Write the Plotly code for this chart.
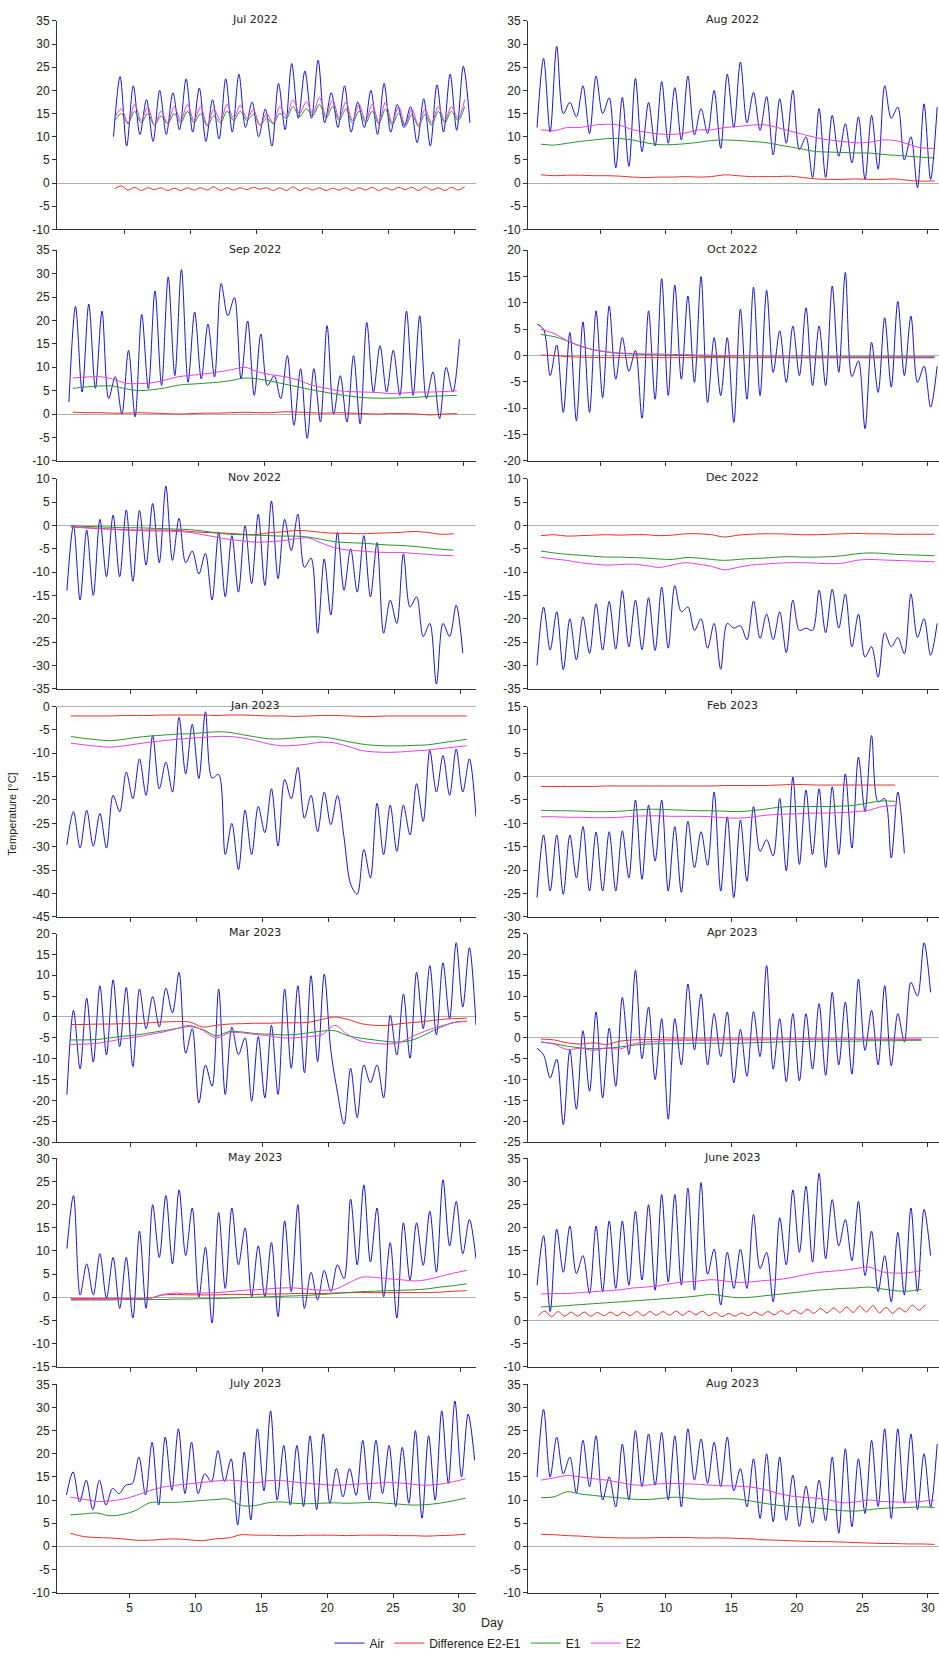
import numpy as np
import plotly.graph_objects as go

W, H = 939, 1658

C_AIR = "#1717c9"
C_DIFF = "#e3312c"
C_E1 = "#2f8f2f"
C_E2 = "#e040e0"

# Air temperature: alternating daily low / daily high, one pair per day,
# an optional trailing value closes the month.
# E-series: one value per day, or (low, high) pairs where the daily cycle shows.

# ---------------- Jul 2022 (logging starts on day 4) ----------------
JUL22_AIR = [10, 23, 8, 21, 10.5, 18, 9, 20, 10.5, 19.5, 11.5, 22.5, 11, 20.5, 9, 18,
             9.5, 22.5, 11, 23.5, 12, 17.5, 10, 16, 8, 21.5, 11.5, 25.8, 14, 24.2, 14, 26.5,
             13, 19.5, 12, 21, 11, 17.5, 12, 20, 10.5, 21.5, 11, 17, 12, 16.5, 8.7, 18.2,
             8, 21.2, 11, 23.5, 11.4, 25.2, 13]
JUL22_E2 = [14.2, 16, 13, 17, 13.5, 16.5, 12.5, 15.5, 13, 16.5, 13.5, 17, 13.5, 16.5, 12.5, 16,
            13.5, 17, 14, 16.8, 14, 15.8, 12.5, 15, 13, 16.5, 14.5, 18, 15, 17.5, 15, 18.5,
            14.5, 18, 14, 17.5, 13.5, 17, 13.5, 17, 13, 17.5, 13, 16.5, 12.5, 16, 12.5, 16,
            13, 16.5, 13.5, 16.5, 14, 18]
JUL22_E1 = [13.5, 15, 12.8, 15.5, 13, 15, 12.5, 14.5, 12.8, 15, 13, 15.5, 13, 15, 12.3, 14.5,
            13, 15.5, 13.5, 15.5, 13.5, 14.8, 12.5, 14, 12.8, 15, 14, 16.5, 14.3, 16, 14.5, 17,
            14, 16.5, 13.5, 16, 13, 15.5, 13, 15.5, 12.8, 16, 12.5, 15, 12.3, 14.8, 12.3, 14.8,
            12.5, 15.5, 13, 15.5, 13.5, 16.5]
JUL22_DIFF = [-1.2, -0.6, -1.5, -0.9, -1.6, -1.0, -1.4, -1.0, -1.6, -1.1, -1.6, -1.0, -1.5, -1.0,
              -1.5, -0.8, -1.6, -1.0, -1.5, -1.0, -1.4, -0.9, -1.3, -1.0, -1.6, -1.0, -1.6, -0.8,
              -1.6, -1.0, -1.5, -1.0, -1.6, -1.1, -1.5, -1.0, -1.6, -1.0, -1.5, -0.9, -1.6, -1.0,
              -1.5, -0.9, -1.4, -0.9, -1.6, -0.8, -1.5, -1.0, -1.6, -0.9, -1.5, -0.8]

# ---------------- Aug 2022 ----------------
AUG22_AIR = [12, 26.9, 11, 29.5, 15, 17.4, 14.3, 21, 10.7, 23.1, 15, 18.4, 3.3, 18.5, 3.6, 22.6,
             6.8, 17.4, 8, 21.9, 8.6, 20.6, 9.3, 23.1, 10.4, 16.1, 10.7, 20, 7.5, 23.5, 12, 26.1,
             13, 19.6, 11.4, 18.7, 6.1, 18.2, 8.6, 20, 7.2, 10, 1.2, 16.1, 1.2, 14.6, 5.8, 12.8,
             4.4, 14.3, 0.8, 14.6, 3, 21, 14, 16.4, 5, 10, -1, 17.1, 0.8, 16.4]
AUG22_E2 = [11.5, 11.3, 12, 12, 12.5, 12.7, 12.5, 11.5, 11, 10.6, 10.5, 10.8, 11.5, 11.5, 12, 12.2,
            12.5, 12.6, 12, 11.2, 10.5, 9.8, 9.3, 9, 8.7, 8.8, 9.3, 9.2, 8.4, 7.6, 7.5]
AUG22_E1 = [8.4, 8.2, 8.6, 9, 9.3, 9.6, 9.6, 9.3, 8.7, 8.3, 8.3, 8.5, 8.8, 9.2, 9.3, 9.2,
            9, 8.8, 8.3, 7.8, 7.3, 6.8, 6.7, 6.6, 6.5, 6.5, 6.2, 6, 5.8, 5.6, 5.4]
AUG22_DIFF = [1.8, 1.6, 1.7, 1.7, 1.6, 1.6, 1.5, 1.3, 1.2, 1.3, 1.3, 1.4, 1.3, 1.4, 1.8, 1.6,
              1.4, 1.4, 1.4, 1.5, 1.2, 0.9, 0.8, 0.8, 0.9, 0.8, 0.8, 0.9, 0.6, 0.4, 0.5]

# ---------------- Sep 2022 ----------------
SEP22_AIR = [2.6, 23, 4.7, 23.5, 5.5, 22, 3.3, 8, 0, 13.6, -0.6, 21.3, 5.4, 26.3, 6.1, 29.3,
             8.2, 30.9, 6.8, 21.8, 7.5, 19.2, 7.9, 27.9, 21, 24.9, 7.5, 19.9, 4, 17.1, 6.1, 8.2,
             3.3, 12.5, -2.4, 9.7, -5.2, 9.7, -1.7, 18.9, 0, 8.2, -1.7, 12.5, -2.1, 19.6, 4.7, 14.6,
             4.7, 13.6, 4, 22, 4, 21, 3.3, 9, -1, 10, 4.7, 16]
SEP22_E2 = [7.7, 7.9, 8, 7.5, 6.6, 6.5, 6.7, 7.3, 8, 8.3, 8.6, 9, 9.5, 10, 9, 8.4,
            8, 7.3, 6.2, 5.6, 5, 4.8, 4.7, 4.6, 4.4, 4.5, 4.7, 4.7, 4.8, 5]
SEP22_E1 = [5.5, 5.8, 6, 6, 5.4, 5, 5.2, 5.6, 6.2, 6.4, 6.6, 6.8, 7.2, 7.7, 7.5, 7,
            6.4, 5.8, 5.2, 4.7, 4.2, 3.8, 3.5, 3.4, 3.4, 3.5, 3.6, 3.8, 3.9, 4]
SEP22_DIFF = [0.4, 0.3, 0.3, 0.2, 0.2, 0.3, 0.2, 0.1, 0, 0.1, 0.2, 0.2, 0.3, 0.4, 0.3, 0.3,
              0.5, 0.4, 0.3, 0.2, 0.3, 0.2, 0.1, 0, 0.1, 0.1, 0, -0.2, 0, 0.1]

# ---------------- Oct 2022 ----------------
OCT22_AIR = [6, 5, -3.8, 2, -10.8, 4.4, -12.4, 6.4, -10.8, 8.5, -8, 9.4, -4.5, 3.4, -3, 1,
             -11.9, 8.5, -8.3, 14.6, -7.6, 13.4, -4.5, 11.3, -5.1, 15, -8.9, 3.4, -7.6, 3.4, -12.7, 8.8,
             -8.3, 13, -7.6, 12.4, -3.2, 4.7, -5.1, 5.6, -3.8, 9.1, -5.7, 5.6, -5.7, 13.2, -3.2, 15.8,
             -4, -1, -13.9, 2.5, -7, 7.2, -6, 10.3, -3.8, 7.5, -5.1, -2, -9.8, -2]
OCT22_E2 = [5, 4.2, 2.8, 1.8, 1.1, 0.7, 0.5, 0.4, 0.3, 0.3, 0.2, 0.2, 0.1, 0.1, 0, 0,
            0, -0.1, -0.1, -0.1, -0.1, -0.2, -0.2, -0.2, -0.2, -0.2, -0.2, -0.2, -0.2, -0.2, -0.2]
OCT22_E1 = [4, 3.6, 2.8, 1.8, 1.1, 0.7, 0.4, 0.3, 0.2, 0.1, 0, 0, -0.1, -0.2, -0.2, -0.3,
            -0.3, -0.3, -0.3, -0.4, -0.4, -0.4, -0.4, -0.4, -0.4, -0.4, -0.4, -0.4, -0.4, -0.4, -0.4]
OCT22_DIFF = [0.1, 0, -0.2, -0.3, -0.35, -0.4, -0.4, -0.4, -0.4, -0.4, -0.4, -0.4, -0.4, -0.4, -0.4, -0.4,
              -0.4, -0.4, -0.4, -0.4, -0.4, -0.4, -0.4, -0.4, -0.4, -0.4, -0.4, -0.4, -0.4, -0.4, -0.4]

# ---------------- Nov 2022 ----------------
NOV22_AIR = [-14, 0, -16, -1, -15, 1.3, -11, 2.2, -11, 3.3, -12, 3.2, -8.5, 4.7, -8, 8.4,
             -7.5, 1.5, -8, -5.5, -10.4, -6, -16, -1.5, -15.3, -2.2, -14.3, -0.1, -12.5, 2.4, -12.9, 5.2,
             -11.4, 1.3, -5.4, 2.4, -9, -7, -23.1, -7.2, -19.2, -1.5, -13.9, -5, -14.3, -2.2, -15.3, -3.7,
             -23.1, -16, -21, -6.1, -17.5, -15.3, -23.8, -21, -34, -21, -23.8, -17.1, -27.4]
NOV22_E2 = [-0.3, -0.5, -0.7, -0.8, -1, -1.1, -1.2, -1.2, -1.3, -1.5, -2, -2.5, -3, -3.3, -3.6, -3.5,
            -3.3, -2.9, -2.7, -3.8, -4.8, -5.3, -5.5, -5.7, -5.8, -5.8, -6, -6.2, -6.4, -6.5]
NOV22_E1 = [-0.1, -0.2, -0.3, -0.4, -0.5, -0.5, -0.6, -0.7, -0.8, -0.9, -1.2, -1.6, -1.9, -2, -2.1, -2.2,
            -2.3, -2.3, -2.5, -3, -3.5, -3.7, -3.8, -4, -4.2, -4.3, -4.5, -4.8, -5.1, -5.3]
NOV22_DIFF = [-0.3, -0.5, -0.6, -0.8, -0.9, -1, -1, -1, -1.1, -1.3, -1.5, -1.6, -1.7, -1.9, -2, -1.6,
              -1.4, -1.1, -1.2, -1.5, -1.7, -1.7, -1.8, -1.7, -1.6, -1.5, -1.3, -1.5, -1.9, -1.8]

# ---------------- Dec 2022 ----------------
DEC22_AIR = [-30, -17.5, -26.7, -18.5, -30.9, -20, -28.8, -19.6, -27.4, -16.8, -26.7, -16.3, -26.5, -14, -26, -16,
             -26.6, -15.5, -26.8, -13.2, -26.3, -12.9, -18.5, -17.5, -22.5, -20, -26.3, -21, -30.8, -21, -22, -21.5,
             -24.5, -16.2, -24.2, -19, -24.5, -18.5, -27.3, -16, -22.5, -22, -22.5, -13.9, -23, -13.7, -22, -14.7,
             -26, -19, -28.2, -26, -32.5, -23, -26, -24, -27.5, -14.7, -24, -20, -27.8, -21]
DEC22_E2 = [-6.8, -7.2, -7.5, -8, -8.3, -8.5, -8.4, -8.3, -8.6, -9, -8.5, -8, -8.3, -8.8, -9.5, -9,
            -8.5, -8.3, -8.1, -8, -8, -8.1, -8.2, -8.1, -7.5, -7.3, -7.4, -7.5, -7.6, -7.7, -7.8]
DEC22_E1 = [-5.5, -5.9, -6.2, -6.4, -6.6, -6.8, -6.8, -6.9, -7, -7.2, -7.3, -6.9, -7, -7.3, -7.5, -7.3,
            -7.1, -7, -6.8, -6.7, -6.8, -6.8, -6.7, -6.5, -6.1, -5.9, -6, -6.2, -6.3, -6.4, -6.5]
DEC22_DIFF = [-2.2, -2, -2.3, -2.2, -2.1, -2, -2.1, -2, -2, -2.2, -2.1, -1.8, -1.8, -2, -2.5, -2.1,
              -1.9, -1.8, -1.8, -1.9, -2, -2, -1.9, -1.8, -1.7, -1.8, -1.8, -1.9, -1.9, -1.9, -1.9]

# ---------------- Jan 2023 ----------------
JAN23_AIR = [-29.6, -22.5, -30.3, -22.2, -29.9, -22.9, -30.3, -19, -22.5, -14, -19.7, -11.2, -19, -6.2, -17.6, -11.9,
             -18.3, -2.3, -14.4, -3.8, -15.4, -1.1, -15.3, -14.5, -31.7, -25, -34.9, -22.2, -31.7, -21.4, -27, -17.6,
             -29.9, -15.6, -19.7, -13, -23.9, -19, -26.8, -18.3, -25.3, -19, -28, -38, -40.2, -30.6, -36.7, -20.7,
             -31.7, -21.1, -31, -21.1, -27.5, -16.5, -24.6, -9.4, -18.3, -10.5, -19, -9.1, -18.3, -11.2, -23.6]
JAN23_E2 = [-7.8, -8.2, -8.5, -8.7, -8.4, -8, -7.6, -7.3, -7, -6.8, -6.6, -6.4, -6.4, -6.7, -7.3, -8,
            -8.4, -8.3, -8, -7.6, -7.8, -8.5, -9.4, -9.7, -9.8, -9.7, -9.5, -9.3, -9, -8.7, -8.4]
JAN23_E1 = [-6.4, -6.8, -7.1, -7.3, -7, -6.6, -6.3, -6.1, -5.9, -5.8, -5.6, -5.4, -5.5, -6, -6.5, -6.9,
            -6.9, -6.7, -6.5, -6.5, -6.9, -7.5, -8, -8.3, -8.4, -8.4, -8.3, -8.2, -7.8, -7.4, -7]
JAN23_DIFF = [-2, -2, -2, -2, -1.9, -1.9, -1.9, -1.8, -1.8, -1.8, -1.8, -1.9, -1.8, -1.8, -1.9, -2,
              -2, -2.1, -2, -1.9, -1.9, -2, -2.1, -2.1, -2, -2, -2, -2, -2, -2, -2]

# ---------------- Feb 2023 ----------------
FEB23_AIR = [-25.9, -12.5, -24.5, -12.5, -25.2, -12.5, -21.7, -10.7, -24.5, -11.9, -24.5, -11.8, -24.5, -11.6, -21.7, -5,
             -22, -6.1, -18.1, -5, -24.5, -10.7, -24.8, -9.6, -19.5, -11.8, -19, -3.3, -24.5, -8.6, -25.9, -9.3,
             -22.4, -6.4, -16, -13.5, -17, -4.7, -20.2, -0.1, -18.8, -2.9, -16.7, -2.6, -19.5, -2.2, -16.7, 0.6,
             -15.3, 4.2, -7.5, 8.8, -5.4, -4.7, -17.4, -3.3, -16.4]
FEB23_E2 = [-8.6, -8.6, -8.7, -8.7, -8.8, -8.8, -8.7, -8.5, -8.4, -8.4, -8.5, -8.5, -8.5, -8.6, -8.8, -8.9,
            -8.7, -8.3, -8.1, -8, -7.9, -7.8, -7.8, -7.7, -7.5, -7.2, -6.4, -6.2]
FEB23_E1 = [-7.2, -7.3, -7.3, -7.4, -7.5, -7.5, -7.4, -7.2, -7, -7, -7.1, -7.2, -7.3, -7.3, -7.4, -7.5,
            -7.3, -7, -6.6, -6.4, -6.4, -6.4, -6.4, -6.3, -6.1, -5.6, -5.2, -5.3]
FEB23_DIFF = [-2.1, -2.1, -2.1, -2.1, -2.1, -2, -2, -2, -2, -2, -2, -2, -2, -2, -1.9, -1.9,
              -1.9, -1.9, -1.8, -1.7, -1.7, -1.8, -1.8, -1.8, -1.8, -1.8, -1.8, -1.8]

# ---------------- Mar 2023 ----------------
MAR23_AIR = [-18.6, 1.6, -12.4, 4.5, -10.8, 7.5, -9.1, 8.9, -7.1, 7.1, -11.9, 6.7, -2.8, 4.9, -2.4, 6.9,
             1, 10.7, -8.7, -2.8, -20.6, -11.5, -16.6, 6.7, -18.6, -2.4, -9, -5, -20.2, -4.7, -19.4, -2,
             -18.6, 6.7, -12.3, 7.5, -13.4, 9.9, -10.7, 10.3, -8, -18, -25.7, -12.3, -24.1, -11.5, -15.8, -11.5,
             -19.4, 0.4, -9.1, 5.5, -9.9, 10.7, -2.8, 12.3, -4.3, 13, -0.4, 17.8, 2.4, 16.6, -2]
MAR23_E2 = [-6.6, -6.5, -6.3, -5.8, -5.2, -4.8, -4.2, -3.6, -2.8, -2, -3.2, -5, -3.8, -3.8, -4.2, -4.5,
            -5, -5, -4.7, -4.3, -2, -4.3, -5.8, -6.3, -6.5, -6, -4.5, -3.2, -2.2, -1.4, -1]
MAR23_E1 = [-5.5, -5.5, -5.4, -5, -4.6, -4.3, -3.8, -3.3, -2.8, -2.3, -3, -4.5, -3.5, -3.6, -4, -4.1,
            -4.3, -4.2, -3.8, -3.4, -3.3, -4.5, -5.1, -5.5, -5.9, -6, -5.4, -4, -2.5, -1.3, -1]
MAR23_DIFF = [-1.8, -1.8, -1.7, -1.7, -1.6, -1.6, -1.4, -1.2, -1.1, -1.2, -2.4, -2, -1.7, -1.6, -1.5, -1.5,
              -1.4, -1.4, -1.3, -0.6, 0, -0.6, -1.6, -2, -2, -1.6, -1.3, -1, -0.6, -0.4, -0.3]

# ---------------- Apr 2023 ----------------
APR23_AIR = [-2.5, -4.1, -9.6, -5.1, -20.8, -2.9, -17.1, 1.7, -12.8, 6.2, -14.4, 2.3, -11.6, 9.7, -4, 16.2,
             -5, 7.4, -10, 4.6, -19.5, 4.6, -6.5, 12.9, -2.9, 10.5, -6.5, 5.8, -4.5, 6.2, -10.8, 2,
             -9.2, 6.3, -4.5, 17.3, -7.5, 4.6, -10.5, 5.8, -10.3, 5.8, -7.5, 8.2, -9, 10.9, -6.5, 8.6,
             -8.7, 14.1, -3, 6.6, -6.5, 12.5, -6.7, 5.8, -1, 13.3, 10, 22.8, 10.9]
APR23_E2 = [-1, -1.5, -2.8, -2.5, -3, -2.4, -2.7, -1.5, -1, -0.8, -0.7, -0.6, -0.6, -0.6, -0.5, -0.5,
            -0.5, -0.5, -0.4, -0.4, -0.4, -0.4, -0.4, -0.4, -0.4, -0.4, -0.4, -0.4, -0.4, -0.4]
APR23_E1 = [-1, -1.4, -2, -2.4, -2.6, -2.5, -2.2, -1.8, -1.5, -1.4, -1.4, -1.4, -1.3, -1.3, -1.3, -1.3,
            -1.2, -1.1, -1, -0.9, -0.9, -0.8, -0.8, -0.8, -0.8, -0.7, -0.7, -0.7, -0.6, -0.6]
APR23_DIFF = [-0.3, -0.5, -1.2, -1.5, -1.2, -1.6, -0.8, -0.5, -0.4, -0.4, -0.3, -0.3, -0.3, -0.3, -0.3, -0.3,
              -0.3, -0.3, -0.3, -0.3, -0.3, -0.3, -0.3, -0.3, -0.3, -0.3, -0.3, -0.3, -0.3, -0.3]

# ---------------- May 2023 ----------------
MAY23_AIR = [10.5, 22, 0.5, 7.2, 0.5, 9.4, -0.2, 8.6, -2.4, 8.6, -4.5, 14.3, -2.4, 20, 8.6, 22,
             7.2, 23.2, 9, 19.3, 0, 10.8, -5.6, 18.3, 1.9, 19.3, 7, 15, 0.1, 11.1, 0.1, 11.8,
             -4.2, 16.5, 1.2, 20, -2.4, 5.4, -0.6, 5.8, 1.2, 7, 4, 21.2, 7, 24.3, 7.6, 19.3,
             0.1, 11.8, -4.5, 16.1, 3.7, 16.1, 6.9, 18.6, 5.4, 25.4, 11.1, 20.7, 9.4, 16.8, 8.3]
MAY23_E2 = [-0.5, -0.5, -0.5, -0.4, -0.4, -0.3, -0.2, 0.6, 0.9, 0.8, 0.9, 1, 1.2, 1.5, 1.6, 1.8,
            2, 2, 1.7, 1.5, 1.7, 3, 4.3, 4.3, 4, 3.8, 3.5, 3.8, 4.5, 5.2, 5.8]
MAY23_E1 = [-0.6, -0.6, -0.6, -0.6, -0.5, -0.5, -0.5, -0.5, -0.4, -0.4, -0.3, -0.3, -0.2, -0.1, 0, 0.1,
            0.2, 0.3, 0.4, 0.6, 0.8, 1, 1.2, 1.3, 1.4, 1.5, 1.6, 1.8, 2.2, 2.5, 2.9]
MAY23_DIFF = [-0.3, -0.3, -0.3, -0.3, -0.3, -0.3, -0.2, 0.5, 0.6, 0.5, 0.5, 0.5, 0.6, 0.6, 0.6, 0.7,
              0.7, 0.8, 0.8, 0.8, 0.9, 1, 1, 1, 1, 1, 1, 1, 1.1, 1.3, 1.4]

# ---------------- June 2023 ----------------
JUN23_AIR = [7.6, 18.3, 1.9, 19.7, 10.4, 20.4, 10.1, 14, 5.8, 20.4, 6.2, 21.5, 6.9, 21.5, 7.6, 23.6,
             8.7, 25, 6.5, 27.2, 8.3, 27.2, 7.6, 28.6, 6.5, 29.8, 10, 15.4, 3.3, 14.7, 6.9, 15.4,
             6.9, 22.9, 11.2, 14.7, 4, 22.2, 12, 28.2, 14.7, 29, 12.6, 31.8, 13.3, 26.1, 16.1, 21.8,
             12.9, 25.7, 9.7, 19.3, 6.2, 14, 4, 19, 5.5, 24.3, 6.2, 24, 14]
JUN23_E2 = [5.7, 5.8, 5.8, 6, 6.2, 6.4, 6.6, 7, 7.2, 7.5, 8, 8.3, 8.5, 8.8, 8.5, 8.2,
            8.3, 8.6, 8.8, 9.2, 9.8, 10.3, 10.6, 10.8, 11.2, 11.5, 10.5, 10.2, 10.3, 10.8]
JUN23_E1 = [2.9, 3, 3.2, 3.4, 3.6, 3.8, 4, 4.2, 4.4, 4.6, 4.8, 5, 5.3, 5.6, 5.2, 4.9,
            5, 5.3, 5.6, 5.9, 6.2, 6.5, 6.7, 6.9, 7, 7.2, 6.8, 6.4, 6.3, 6.7]
JUN23_DIFF = [1.0, 2.0, 0.8, 1.9, 0.9, 1.8, 0.9, 1.8, 0.9, 1.7, 1.0, 1.8, 1.0, 1.8, 1.0, 1.9,
              1.0, 1.9, 1.1, 1.9, 1.1, 2.0, 1.1, 2.0, 1.2, 2.0, 1.0, 1.7, 0.8, 1.5, 0.9, 1.6,
              1.0, 1.8, 1.1, 1.9, 1.2, 2.1, 1.3, 2.2, 1.4, 2.4, 1.5, 2.6, 1.6, 2.7, 1.7, 2.9,
              1.7, 3.1, 1.8, 3.2, 1.6, 2.8, 1.5, 2.7, 1.8, 3.3, 2.2, 3.4]

# ---------------- July 2023 ----------------
JUL23_AIR = [11.1, 16.1, 9.6, 14.3, 7.9, 14.3, 8.9, 12.5, 11.4, 13.2, 13.6, 19.3, 11.1, 22.5, 8.9, 23.6,
             12.1, 25.4, 11.4, 22.5, 11.4, 15.7, 14, 20.7, 14, 18.9, 4.6, 20.4, 5.7, 25.4, 12, 29.3,
             10, 21.8, 8.9, 21.8, 8.6, 23.9, 7.9, 24.3, 9.3, 16.8, 10.7, 16.8, 11, 22.9, 10, 22.9,
             11.4, 21.8, 8.6, 21.4, 9.3, 25, 6.1, 23.9, 10, 29.3, 13.6, 31.4, 15, 28.6, 18.6]
JUL23_E2 = [10.6, 10.2, 9.7, 9.8, 10.2, 11, 12, 12.8, 13.2, 13.5, 13.8, 14.1, 14.3, 14.1, 13.7, 14.2,
            14.2, 13.9, 13.6, 13.4, 13.2, 13.3, 13.5, 13.6, 13.8, 13.7, 13.4, 13.2, 13.4, 13.9, 14.6]
JUL23_E1 = [6.8, 7, 7.2, 6.6, 6.9, 7.8, 9.4, 9.5, 9.5, 9.7, 9.9, 10.1, 10.2, 8.8, 8.8, 9.4,
            9.6, 9.3, 9.2, 9.3, 9.4, 9.3, 9.4, 9.5, 9.3, 9.1, 8.9, 9, 9.3, 9.8, 10.4]
JUL23_DIFF = [2.8, 2.1, 1.9, 1.8, 1.6, 1.3, 1.3, 1.5, 1.6, 1.4, 1.2, 1.6, 1.8, 2.5, 2.4, 2.4,
              2.3, 2.3, 2.4, 2.4, 2.4, 2.3, 2.4, 2.4, 2.4, 2.3, 2.3, 2.2, 2.3, 2.4, 2.6]

# ---------------- Aug 2023 ----------------
AUG23_AIR = [15, 29.6, 15, 23.6, 15.7, 19.3, 11.5, 22.9, 12.9, 23.9, 10, 15, 8.5, 22.1, 10, 25,
             12.9, 24.3, 13.2, 24.6, 10, 23.9, 8.5, 25.4, 14.3, 23.2, 13.6, 22.5, 12.9, 23.6, 12, 16.8,
             8.5, 18.9, 6, 20, 5.3, 19.3, 5.6, 15.4, 4.3, 13, 5, 14.3, 5.5, 19.3, 2.8, 21.1,
             4.2, 18.9, 7.1, 22.9, 8.6, 25.4, 6, 25.4, 9.3, 24.3, 7.9, 20, 8.5, 22.1]
AUG23_E2 = [14.3, 14.8, 15.3, 15, 14.6, 14.3, 13.8, 13.3, 13.2, 13.5, 13.6, 13.5, 13.4, 13.2, 13.1, 13,
            12.8, 12.3, 11.5, 10.9, 10.6, 10.4, 10, 9.4, 9.6, 10, 9.7, 9.6, 9.5, 9.7, 10]
AUG23_E1 = [10.5, 10.7, 11.8, 11.3, 11, 10.7, 10.5, 10.2, 10.1, 10.3, 10.6, 10.5, 10.2, 10.2, 10.3, 10.2,
            9.8, 9.3, 8.9, 8.6, 8.5, 8.3, 8, 7.7, 7.6, 7.9, 8.2, 8.3, 8.4, 8.5, 8.4]
AUG23_DIFF = [2.6, 2.5, 2.3, 2.2, 2, 1.9, 1.8, 1.8, 1.8, 1.9, 1.9, 1.9, 1.8, 1.8, 1.8, 1.7,
              1.6, 1.4, 1.3, 1.2, 1.1, 1, 1, 0.9, 0.8, 0.7, 0.6, 0.6, 0.5, 0.5, 0.4]

# Panel table: title, series, first logged day, y range, x range,
# samples per day for (Difference, E1, E2)
LEFT_X = (-0.55, 31.2)
RIGHT_X = (-0.49, 30.84)
PANELS = [
    ("Jul 2022", JUL22_AIR, JUL22_DIFF, JUL22_E1, JUL22_E2, 4, (-10, 35), (-0.08, 31.66), (2, 2, 2)),
    ("Aug 2022", AUG22_AIR, AUG22_DIFF, AUG22_E1, AUG22_E2, 0, (-10, 35), RIGHT_X, (1, 1, 1)),
    ("Sep 2022", SEP22_AIR, SEP22_DIFF, SEP22_E1, SEP22_E2, 0, (-10, 35), (-0.7, 30.95), (1, 1, 1)),
    ("Oct 2022", OCT22_AIR, OCT22_DIFF, OCT22_E1, OCT22_E2, 0, (-20, 20), RIGHT_X, (1, 1, 1)),
    ("Nov 2022", NOV22_AIR, NOV22_DIFF, NOV22_E1, NOV22_E2, 0, (-35, 10), LEFT_X, (1, 1, 1)),
    ("Dec 2022", DEC22_AIR, DEC22_DIFF, DEC22_E1, DEC22_E2, 0, (-35, 10), RIGHT_X, (1, 1, 1)),
    ("Jan 2023", JAN23_AIR, JAN23_DIFF, JAN23_E1, JAN23_E2, 0, (-45, 0), LEFT_X, (1, 1, 1)),
    ("Feb 2023", FEB23_AIR, FEB23_DIFF, FEB23_E1, FEB23_E2, 0, (-30, 15), RIGHT_X, (1, 1, 1)),
    ("Mar 2023", MAR23_AIR, MAR23_DIFF, MAR23_E1, MAR23_E2, 0, (-30, 20), LEFT_X, (1, 1, 1)),
    ("Apr 2023", APR23_AIR, APR23_DIFF, APR23_E1, APR23_E2, 0, (-25, 25), RIGHT_X, (1, 1, 1)),
    ("May 2023", MAY23_AIR, MAY23_DIFF, MAY23_E1, MAY23_E2, 0, (-15, 30), LEFT_X, (1, 1, 1)),
    ("June 2023", JUN23_AIR, JUN23_DIFF, JUN23_E1, JUN23_E2, 0, (-10, 35), RIGHT_X, (2, 1, 1)),
    ("July 2023", JUL23_AIR, JUL23_DIFF, JUL23_E1, JUL23_E2, 0, (-10, 35), (-0.52, 31.3), (1, 1, 1)),
    ("Aug 2023", AUG23_AIR, AUG23_DIFF, AUG23_E1, AUG23_E2, 0, (-10, 35), RIGHT_X, (1, 1, 1)),
]

# page geometry (pixels)
ROW_TOP = [14, 245.5, 476, 706, 935, 1162, 1390]
ROW_BOT = [224.5, 458, 688, 918, 1145.5, 1372, 1600]
COL_X = [(57, 476), (528, 939)]
TITLE_X = [255, 732]

FONT_TICK = dict(family="Liberation Sans, Arial, sans-serif", size=12, color="#222")
FONT_TITLE = dict(family="DejaVu Sans, Verdana, sans-serif", size=11, color="#222")


def air_times(first, n):
    return first + 0.2 + 0.5 * np.arange(n)


def series_times(first, n, per_day):
    if per_day == 2:
        return first + 0.3 + 0.5 * np.arange(n)
    return first + 0.5 + np.arange(n)


fig = go.Figure()
annotations = []

for k, (title, air, diff, e1, e2, first, yr, xr, per_day) in enumerate(PANELS):
    row, col = divmod(k, 2)
    n = k + 1
    xa = "x" if n == 1 else f"x{n}"
    ya = "y" if n == 1 else f"y{n}"
    show = k == 0

    series = [
        ("Air", air_times(first, len(air)), air, C_AIR),
        ("Difference E2-E1", series_times(first, len(diff), per_day[0]), diff, C_DIFF),
        ("E1", series_times(first, len(e1), per_day[1]), e1, C_E1),
        ("E2", series_times(first, len(e2), per_day[2]), e2, C_E2),
    ]
    for name, t, v, color in series:
        fig.add_trace(go.Scatter(
            x=t, y=v, mode="lines", name=name, legendgroup=name, showlegend=show,
            line=dict(color=color, width=1, shape="spline", smoothing=0.9),
            xaxis=xa, yaxis=ya, hoverinfo="skip"))

    x0, x1 = COL_X[col]
    top, bot = ROW_TOP[row], ROW_BOT[row]
    yticks = list(range(yr[0], yr[1] + 1, 5))
    last_row = row == 6
    fig.layout[f"xaxis{'' if n == 1 else n}"] = dict(
        domain=[x0 / W, x1 / W], range=list(xr), anchor=ya,
        showgrid=False, zeroline=False, showline=True, linecolor="#333", linewidth=1,
        ticks="outside", ticklen=4, tickcolor="#333",
        tickvals=[5, 10, 15, 20, 25, 30], ticktext=["5", "10", "15", "20", "25", "30"],
        showticklabels=last_row, tickfont=FONT_TICK, fixedrange=True)
    fig.layout[f"yaxis{'' if n == 1 else n}"] = dict(
        domain=[1 - bot / H, 1 - top / H], range=list(yr), anchor=xa,
        showgrid=False, zeroline=True, zerolinecolor="#b0b0b0", zerolinewidth=1,
        showline=True, linecolor="#333", linewidth=1,
        ticks="outside", ticklen=4, tickcolor="#333",
        tickvals=yticks, ticktext=[str(v) for v in yticks],
        tickfont=FONT_TICK, fixedrange=True)

    annotations.append(dict(
        text=title, x=TITLE_X[col] / W, y=1 - (top - 1) / H, xref="paper", yref="paper",
        xanchor="center", yanchor="middle", showarrow=False, font=FONT_TITLE))

annotations.append(dict(
    text="Temperature [°C]", x=12 / W, y=1 - 815 / H, xref="paper", yref="paper",
    textangle=-90, xanchor="center", yanchor="middle", showarrow=False,
    font=dict(family="Liberation Sans, Arial, sans-serif", size=11, color="#222")))
annotations.append(dict(
    text="Day", x=492 / W, y=1 - 1631 / H, xref="paper", yref="paper",
    xanchor="center", yanchor="middle", showarrow=False,
    font=dict(family="Liberation Sans, Arial, sans-serif", size=12.5, color="#222")))

fig.update_layout(
    width=W, height=H, margin=dict(l=0, r=0, t=0, b=0),
    paper_bgcolor="white", plot_bgcolor="white",
    annotations=annotations,
    legend=dict(orientation="h", x=488 / W, xanchor="center", y=1 - 1651 / H, yanchor="middle",
                font=dict(family="Liberation Sans, Arial, sans-serif", size=12, color="#222"),
                itemwidth=30, tracegroupgap=0, bgcolor="rgba(0,0,0,0)"),
    showlegend=True,
)

fig.write_html("out.html")
